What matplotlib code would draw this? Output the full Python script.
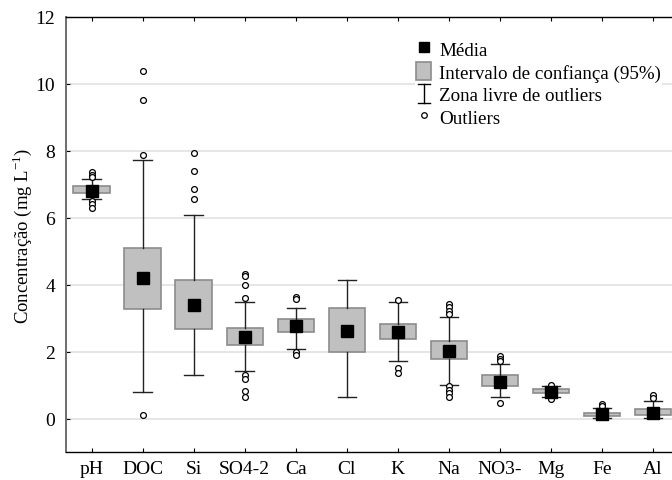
import matplotlib
matplotlib.use("Agg")
import matplotlib.pyplot as plt
from matplotlib.lines import Line2D
from matplotlib.patches import Rectangle
from matplotlib.legend_handler import HandlerBase

plt.rcParams['font.family'] = ['Liberation Serif', 'DejaVu Serif']
plt.rcParams['mathtext.fontset'] = 'custom'
plt.rcParams['mathtext.rm'] = 'Liberation Serif'

# Summary statistics per variable (mg/L, pH unitless)
categories = ['pH', 'DOC', 'Si', 'SO4-2', 'Ca', 'Cl', 'K', 'Na', 'NO3-', 'Mg', 'Fe', 'Al']
means = [6.81, 4.20, 3.38, 2.43, 2.76, 2.62, 2.60, 2.02, 1.10, 0.80, 0.13, 0.18]
ci_low = [6.74, 3.28, 2.67, 2.19, 2.59, 1.99, 2.38, 1.77, 0.96, 0.76, 0.08, 0.11]
ci_high = [6.95, 5.11, 4.14, 2.72, 2.96, 3.29, 2.83, 2.31, 1.29, 0.87, 0.18, 0.29]
whisk_low = [6.55, 0.80, 1.31, 1.42, 2.09, 0.64, 1.72, 0.99, 0.64, 0.64, 0.02, 0.02]
whisk_high = [7.15, 7.74, 6.07, 3.49, 3.31, 4.13, 3.49, 3.04, 1.64, 0.96, 0.31, 0.53]
outliers = [
    [7.36, 7.29, 7.21, 6.50, 6.40, 6.30],
    [10.38, 9.53, 7.88, 0.10],
    [7.95, 7.41, 6.85, 6.57],
    [4.32, 4.26, 3.99, 3.59, 1.30, 1.19, 0.83, 0.65],
    [3.63, 3.56, 1.98, 1.91],
    [],
    [3.53, 1.51, 1.37],
    [3.42, 3.32, 3.22, 3.13, 0.96, 0.85, 0.75, 0.65],
    [1.87, 1.79, 1.71, 0.45],
    [0.99, 0.57],
    [0.44, 0.37],
    [0.70, 0.62],
]

BOX_FACE = '#c0c0c0'
BOX_EDGE = '#8c8c8c'


class HandlerWhisker(HandlerBase):
    """Legend glyph: vertical line with caps at both ends."""
    def create_artists(self, legend, orig_handle, xdescent, ydescent,
                       width, height, fontsize, trans):
        cx = width / 2 - xdescent
        h = height * 1.1
        y0 = -ydescent + (height - h) / 2
        y1 = y0 + h
        cap = width * 0.4
        kw = dict(color='black', lw=1.0, transform=trans)
        return [Line2D([cx, cx], [y0, y1], **kw),
                Line2D([cx - cap, cx + cap], [y0, y0], **kw),
                Line2D([cx - cap, cx + cap], [y1, y1], **kw)]


fig = plt.figure(figsize=(6.72, 4.81), dpi=100)
ax = fig.add_axes([0.0982, 0.0582, 0.9115, 0.9044])

stats = []
for i, name in enumerate(categories):
    stats.append(dict(label=name, mean=means[i], med=means[i],
                      q1=ci_low[i], q3=ci_high[i],
                      whislo=whisk_low[i], whishi=whisk_high[i],
                      fliers=outliers[i]))

positions = list(range(len(categories)))
ax.bxp(stats, positions=positions, widths=0.71, patch_artist=True,
       showmeans=True, showfliers=True,
       boxprops=dict(facecolor=BOX_FACE, edgecolor=BOX_EDGE, linewidth=1.2),
       whiskerprops=dict(color='#222222', linewidth=1.0),
       capprops=dict(color='#222222', linewidth=1.0),
       capwidths=0.36,
       medianprops=dict(linewidth=0),
       meanprops=dict(marker='s', markerfacecolor='black',
                      markeredgecolor='black', markersize=8.2),
       flierprops=dict(marker='o', markerfacecolor='white',
                       markeredgecolor='black', markersize=4.2,
                       markeredgewidth=0.9),
       zorder=3)

ax.set_xlim(-0.5, len(categories) - 0.5)
ax.set_ylim(-1, 12)
ax.set_yticks([0, 2, 4, 6, 8, 10, 12])
ax.set_xticks(positions)
ax.set_xticklabels(categories)
ax.yaxis.grid(True, color='#e2e2e2', linewidth=1.2, zorder=0)
ax.set_axisbelow(True)

ax.tick_params(axis='both', direction='in', length=3, labelsize=14,
               top=True, right=False, width=0.8)
ax.tick_params(axis='y', pad=8)
ax.tick_params(axis='x', pad=6)
ax.spines['left'].set_color('#6e6e6e')
ax.spines['left'].set_linewidth(1.4)
ax.spines['right'].set_visible(False)
for s in ('top', 'bottom'):
    ax.spines[s].set_linewidth(1.0)

ax.set_ylabel('Concentração (mg L$^{\\mathregular{-1}}$)', fontsize=13.5,
              labelpad=1)

handles = [
    Line2D([], [], linestyle='none', marker='s', color='black', markersize=7),
    Rectangle((0, 0), 1, 1, facecolor=BOX_FACE, edgecolor=BOX_EDGE, lw=1.2),
    object(),
    Line2D([], [], linestyle='none', marker='o', markerfacecolor='white',
           markeredgecolor='black', markersize=4, markeredgewidth=0.9),
]
labels = ['Média', 'Intervalo de confiança (95%)',
          'Zona livre de outliers', 'Outliers']
leg = fig.legend(handles, labels, loc='upper left',
                 bbox_to_anchor=(0.618, 0.918), frameon=True, fontsize=13.7,
                 handlelength=0.8, handleheight=1.05, handletextpad=0.4,
                 labelspacing=0.18, borderpad=0.05, borderaxespad=0,
                 handler_map={object: HandlerWhisker()})
leg.get_frame().set_edgecolor('none')
leg.get_frame().set_facecolor('white')
leg.get_frame().set_alpha(1)

fig.savefig('out.png', dpi=100)
